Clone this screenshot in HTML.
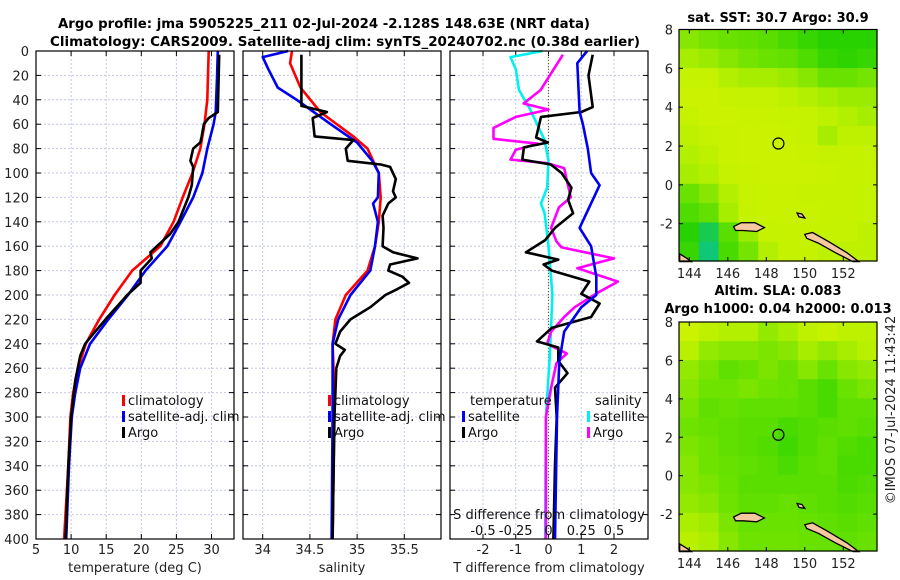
<!DOCTYPE html>
<html><head><meta charset="utf-8">
<style>
html,body{margin:0;padding:0;background:#fff;}
svg{display:block;font-family:"DejaVu Sans","Liberation Sans",sans-serif;}
</style></head>
<body>
<svg id="fig" width="900" height="580" viewBox="0 0 900 580" xmlns="http://www.w3.org/2000/svg">
<text x="324" y="28" font-size="13.5" font-weight="bold" text-anchor="middle" textLength="532" lengthAdjust="spacingAndGlyphs">Argo profile: jma 5905225_211 02-Jul-2024 -2.128S 148.63E (NRT data)</text>
<text x="345" y="46" font-size="13.5" font-weight="bold" text-anchor="middle" textLength="590" lengthAdjust="spacingAndGlyphs">Climatology: CARS2009. Satellite-adj clim: synTS_20240702.nc (0.38d earlier)</text>
<text x="778" y="22" font-size="13" font-weight="bold" text-anchor="middle">sat. SST: 30.7 Argo: 30.9</text>
<text x="778" y="295" font-size="13" font-weight="bold" text-anchor="middle">Altim. SLA: 0.083</text>
<text x="778" y="313" font-size="13" font-weight="bold" text-anchor="middle">Argo h1000: 0.04 h2000: 0.013</text>
<text transform="translate(895,410) rotate(-90)" font-size="13" text-anchor="middle" fill="#222">©IMOS 07-Jul-2024 11:43:42</text>
</svg>
<script>
// ---------- data ----------
const depthTicks=[0,20,40,60,80,100,120,140,160,180,200,220,240,260,280,300,320,340,360,380,400];
const tTicks=[5,10,15,20,25,30];
const sTicks=[34,34.5,35,35.5];
const dTTicks=[-2,-1,0,1,2];
const dSTicks=[-0.5,-0.25,0,0.25,0.5];
const dSTickLabels=["-0.5","-0.25","0","0.25","0.5"];

const tClimDepth=[0,20,40,60,80,100,120,140,160,180,200,220,240,260,280,300,340,400];
const tClimVal=[29.6,29.5,29.4,29.0,28.4,27.3,25.9,24.6,22.7,18.7,16.2,14.0,12.1,11.0,10.3,9.9,9.6,9.0];
const tSatDepth=[0,20,50,60,80,100,120,140,160,180,200,220,240,260,280,300,340,400];
const tSatVal=[30.9,30.8,30.6,30.3,29.4,28.7,27.4,25.6,23.7,20.6,18.1,15.3,12.7,11.3,10.6,10.1,9.7,9.3];
const tArgoDepth=[3,50,55,60,70,75,80,90,95,110,120,140,150,165,170,180,190,200,220,235,240,250,270,300,340,400];
const tArgoVal=[31.1,30.9,29.6,28.9,28.6,28.4,27.4,27.0,27.4,27.2,26.7,25.3,24.1,21.3,21.5,19.9,19.9,18.0,14.9,12.7,12.0,11.3,10.6,10.0,9.6,9.2];

const sClimDepth=[0,10,30,50,70,80,100,120,140,160,180,200,220,240,260,300,400];
const sClimVal=[34.31,34.29,34.40,34.61,34.96,35.11,35.23,35.25,35.23,35.19,35.11,34.88,34.77,34.74,34.75,34.76,34.74];
const sSatDepth=[0,5,15,30,40,60,75,90,100,120,125,140,160,180,200,220,240,300,400];
const sSatVal=[34.27,34.0,34.06,34.16,34.36,34.72,35.0,35.16,35.23,35.22,35.17,35.22,35.19,35.14,34.93,34.80,34.74,34.74,34.73];
const sArgoDepth=[3,45,50,55,70,73,80,90,93,95,105,115,120,125,135,145,160,165,170,175,180,185,190,195,200,210,220,230,240,245,250,260,280,300,400];
const sArgoVal=[34.41,34.41,34.68,34.53,34.55,34.96,34.88,34.90,35.25,35.35,35.41,35.38,35.41,35.33,35.27,35.28,35.27,35.38,35.64,35.35,35.33,35.48,35.55,35.43,35.30,35.14,34.93,34.82,34.77,34.87,34.82,34.78,34.77,34.76,34.74];

const dTSatDepth=[0,10,50,60,80,100,110,145,160,185,200,210,230,255,300,400];
const dTSatVal=[1.18,0.88,0.95,1.05,1.2,1.3,1.56,0.95,1.3,1.46,1.46,1.0,0.48,0.33,0.26,0.2];
const dTArgoDepth=[3,20,46,50,54,71,75,79,89,93,100,112,122,133,145,155,165,171,175,180,189,199,207,218,227,238,243,254,264,276,300,340,400];
const dTArgoVal=[1.35,1.22,1.35,1.0,-0.23,-0.38,-0.02,-0.75,-0.8,0.07,0.4,0.7,0.6,0.75,0.2,-0.1,-0.69,0.3,-0.15,0.1,1.25,1.0,1.56,1.3,0.1,-0.35,0.3,0.3,0.58,0.2,0.25,0.2,0.15];
const dSSatDepth=[0,5,15,32,48,73,90,112,125,133,160,200,250,300,400];
const dSSatVal=[-0.046,-0.29,-0.25,-0.225,-0.14,-0.03,0,-0.01,-0.057,-0.03,0,0.03,0.01,-0.02,-0.025];
const dSArgoDepth=[3,32,43,48,54,63,72,76,81,89,92,96,106,120,128,145,156,161,170,178,189,199,210,218,230,240,248,256,276,300,400];
const dSArgoVal=[0.11,-0.06,-0.19,0,-0.25,-0.42,-0.42,-0.08,-0.25,-0.29,-0.01,0.12,0.14,0.17,0.08,0.02,0.06,0.1,0.5,0.22,0.53,0.36,0.2,0.12,0.02,-0.01,0.14,0.06,0.02,-0.02,-0.02];

const lonTicks=[144,146,148,150,152];
const latTicks=[8,6,4,2,0,-2];
const sstGrid=[
[.75,.72,.70,.68,.65,.60,.55,.50,.50,.50],
[.80,.78,.75,.72,.70,.68,.62,.55,.52,.55],
[.85,.85,.82,.80,.80,.78,.75,.70,.70,.72],
[.88,.88,.86,.85,.85,.84,.82,.80,.78,.78],
[.86,.88,.88,.87,.87,.86,.85,.84,.82,.80],
[.84,.85,.87,.88,.88,.87,.85,.80,.84,.84],
[.82,.84,.87,.88,.88,.88,.87,.85,.86,.85],
[.80,.82,.85,.87,.88,.88,.88,.87,.86,.86],
[.70,.75,.82,.86,.87,.87,.86,.86,.86,.85],
[.62,.68,.80,.85,.87,.87,.87,.86,.86,.85],
[.50,.40,.65,.78,.85,.86,.86,.85,.85,.84],
[.55,.35,.60,.72,.82,.85,.85,.84,.84,.84]];
const slaGrid=[
[.88,.84,.82,.82,.77,.80,.84,.86,.84,.84],
[.83,.77,.75,.75,.73,.75,.80,.77,.80,.83],
[.77,.73,.67,.70,.73,.70,.75,.70,.75,.77],
[.75,.71,.71,.73,.71,.70,.65,.60,.70,.73],
[.73,.67,.69,.67,.67,.67,.65,.60,.67,.67],
[.71,.69,.67,.65,.65,.60,.63,.65,.67,.65],
[.73,.71,.67,.65,.63,.57,.63,.67,.63,.60],
[.75,.71,.69,.67,.65,.61,.65,.67,.60,.60],
[.75,.73,.70,.65,.65,.65,.65,.65,.61,.63],
[.77,.75,.71,.67,.67,.69,.67,.65,.63,.65],
[.81,.79,.73,.69,.70,.70,.69,.67,.65,.67],
[.83,.81,.75,.71,.71,.71,.70,.69,.67,.69]];
const argoLon=148.63, argoLat=2.13;
const islandManus=[[146.3,-2.15],[146.7,-1.95],[147.4,-1.95],[147.9,-2.2],[147.5,-2.4],[146.8,-2.35],[146.4,-2.35]];
const islandNewIreland=[[150.0,-2.55],[150.4,-2.45],[151.2,-2.9],[152.2,-3.5],[152.8,-3.95],[152.5,-3.95],[151.6,-3.5],[150.7,-3.0],[150.1,-2.75]];
const islandSmall=[[149.6,-1.45],[149.85,-1.5],[150.0,-1.7],[149.7,-1.65]];
const islandPNG=[[143.5,-3.55],[143.9,-3.8],[144.1,-3.95],[143.5,-3.95]];

// ---------- helpers ----------
const NS="http://www.w3.org/2000/svg";
const svg=document.getElementById('fig');
function mk(tag,attrs,parent){const e=document.createElementNS(NS,tag);for(const k in attrs)e.setAttribute(k,attrs[k]);(parent||svg).appendChild(e);return e;}
const Y0=51,Y1=539;
function yD(d){return Y0+(d/400)*(Y1-Y0);}
function linScale(d0,d1,r0,r1){return v=>r0+(v-d0)/(d1-d0)*(r1-r0);}

function panel(name,x0,x1,xs,xt,xtl,xlabel,showDepth){
  const g=mk('g',{});
  
  
  xt.forEach(v=>{const x=xs(v);if(x>x0+1&&x<x1-1)mk('line',{x1:x,x2:x,y1:Y0,y2:Y1,stroke:'#c4c8e6','stroke-dasharray':'2,2','stroke-width':1},g);});
  depthTicks.forEach(d=>{const y=yD(d);if(d>0&&d<400)mk('line',{x1:x0,x2:x1,y1:y,y2:y,stroke:'#c4c8e6','stroke-dasharray':'2,2','stroke-width':1},g);
    mk('line',{x1:x0,x2:x0+5,y1:y,y2:y,stroke:'#000'},g);mk('line',{x1:x1-5,x2:x1,y1:y,y2:y,stroke:'#000'},g);
    if(showDepth){const t=mk('text',{x:x0-7,y:y+5,'font-size':13,'text-anchor':'end',fill:'#222'},g);t.textContent=d;}});
  xt.forEach((v,i)=>{const x=xs(v);mk('line',{x1:x,x2:x,y1:Y1,y2:Y1-5,stroke:'#000'},g);mk('line',{x1:x,x2:x,y1:Y0,y2:Y0+5,stroke:'#000'},g);
    if(xtl){const t=mk('text',{x:x,y:554,'font-size':13,'text-anchor':'middle',fill:'#222'},g);t.textContent=xtl[i];}});
  const lt=mk('text',{x:(x0+x1)/2,y:572,'font-size':13,'text-anchor':'middle',fill:'#222'},g);lt.textContent=xlabel;
  return g;
}
function frame(x0,x1){mk('rect',{x:x0,y:Y0,width:x1-x0,height:Y1-Y0,fill:'none',stroke:'#000','stroke-width':1.2});}
function line(g,name,depths,vals,xs,color){
  const pts=depths.map((d,i)=>xs(vals[i]).toFixed(1)+','+yD(d).toFixed(1)).join(' ');
  const p=mk('polyline',{points:pts,fill:'none',stroke:color,'stroke-width':2.6,'stroke-linejoin':'round'},g);
  
  
}
function legend(g,x,y,color,label,name){
  const le=mk('g',{},g);
  
  
  mk('rect',{x:x,y:y-10,width:3,height:11,fill:color},le);
  const t=mk('text',{x:x+6,y:y,'font-size':13,fill:'#111'},le);t.textContent=label;
}

// ---------- panel 1 temperature ----------
const xT=linScale(5,30,36,211.5);
const g1=panel('temperature-panel',36,234,xT,tTicks,tTicks.map(String),'temperature (deg C)',true);
line(g1,'temperature-climatology-line',tClimDepth,tClimVal,xT,'#f00');
line(g1,'temperature-satellite-line',tSatDepth,tSatVal,xT,'#0000f0');
line(g1,'temperature-argo-line',tArgoDepth,tArgoVal,xT,'#000');
legend(g1,122,405,'#f00','climatology','legend-climatology');
legend(g1,122,421,'#0000f0','satellite-adj. clim','legend-satellite-clim');
legend(g1,122,437,'#000','Argo','legend-argo');
frame(36,234);

// ---------- panel 2 salinity ----------
const xS=linScale(34,35.5,262.7,404.3);
const g2=panel('salinity-panel',243,441,xS,sTicks,sTicks.map(String),'salinity',false);
line(g2,'salinity-climatology-line',sClimDepth,sClimVal,xS,'#f00');
line(g2,'salinity-satellite-line',sSatDepth,sSatVal,xS,'#0000f0');
line(g2,'salinity-argo-line',sArgoDepth,sArgoVal,xS,'#000');
legend(g2,328,405,'#f00','climatology','legend-climatology-2');
legend(g2,328,421,'#0000f0','satellite-adj. clim','legend-satellite-clim-2');
legend(g2,328,437,'#000','Argo','legend-argo-2');
frame(243,441);

// ---------- panel 3 differences ----------
const xDT=linScale(-2,2,483,614);
const xDS=v=>xDT(v*4);
const g3=panel('difference-panel',450,648,xDT,dTTicks,dTTicks.map(String),'T difference from climatology',false);
mk('line',{x1:xDT(0),x2:xDT(0),y1:Y0,y2:Y1,stroke:'#7a5a30','stroke-dasharray':'1,2','stroke-width':1.2},g3);
line(g3,'salinity-satellite-diff-line',dSSatDepth,dSSatVal,xDS,'#00f0f0');
line(g3,'salinity-argo-diff-line',dSArgoDepth,dSArgoVal,xDS,'#f0f');
line(g3,'temperature-argo-diff-line',dTArgoDepth,dTArgoVal,xDT,'#000');
line(g3,'temperature-satellite-diff-line',dTSatDepth,dTSatVal,xDT,'#0000f0');
{const t=mk('text',{x:470,y:405,'font-size':13,fill:'#111'},g3);t.textContent='temperature';}
{const t=mk('text',{x:595,y:405,'font-size':13,fill:'#111'},g3);t.textContent='salinity';}
legend(g3,462,421,'#0000f0','satellite','legend-t-satellite');
legend(g3,462,437,'#000','Argo','legend-t-argo');
legend(g3,587,421,'#00f0f0','satellite','legend-s-satellite');
legend(g3,587,437,'#f0f','Argo','legend-s-argo');
{const t=mk('text',{x:549,y:519,'font-size':13,'text-anchor':'middle',fill:'#111'},g3);t.textContent='S difference from climatology';
 }
dSTicks.forEach((v,i)=>{const t=mk('text',{x:xDS(v),y:535,'font-size':13,'text-anchor':'middle',fill:'#111'},g3);t.textContent=dSTickLabels[i];});
frame(450,648);

// ---------- maps ----------
function cmap(v){
  const stops=[[0,[0,0,192]],[0.25,[0,192,200]],[0.5,[40,210,0]],[0.7,[105,226,0]],[0.85,[196,242,0]],[1,[232,240,0]]];
  for(let i=1;i<stops.length;i++){if(v<=stops[i][0]){const a=stops[i-1],b=stops[i],f=(v-a[0])/(b[0]-a[0]);
    return 'rgb('+a[1].map((c,k)=>Math.round(c+(b[1][k]-c)*f)).join(',')+')';}}
  return 'rgb(232,240,0)';
}
function map(name,top,bottom,grid){
  const x0=679,x1=877;
  const lonX=linScale(144,152,689.3,843.3);
  const latY=linScale(8,-3.92,top,bottom);
  const g=mk('g',{});
  
  
  const rows=grid.length,cols=grid[0].length,cw=(x1-x0)/cols,ch=(bottom-top)/rows;
  grid.forEach((row,r)=>row.forEach((v,c)=>{
    const cell=mk('rect',{x:(x0+c*cw).toFixed(2),y:(top+r*ch).toFixed(2),width:(cw+0.6).toFixed(2),height:(ch+0.6).toFixed(2),fill:cmap(v)},g);
    
    
  }));
  [islandManus,islandNewIreland,islandSmall,islandPNG].forEach(isl=>{
    const p=mk('polygon',{points:isl.map(q=>lonX(q[0]).toFixed(1)+','+latY(q[1]).toFixed(1)).join(' '),fill:'#f5c8a0',stroke:'#000','stroke-width':1.3},g);
    
    
  });
  const c=mk('circle',{cx:lonX(argoLon),cy:latY(argoLat),r:5.5,fill:'none',stroke:'#000','stroke-width':1.2},g);
  
  
  mk('rect',{x:x0,y:top,width:x1-x0,height:bottom-top,fill:'none',stroke:'#000','stroke-width':1.2},g);
  latTicks.forEach(v=>{const y=latY(v);mk('line',{x1:x0,x2:x0+4,y1:y,y2:y,stroke:'#000'},g);mk('line',{x1:x1-4,x2:x1,y1:y,y2:y,stroke:'#000'},g);
    const t=mk('text',{x:x0-6,y:y+5,'font-size':13,'text-anchor':'end',fill:'#222'},g);t.textContent=v;});
  lonTicks.forEach(v=>{const x=lonX(v);mk('line',{x1:x,x2:x,y1:bottom,y2:bottom-4,stroke:'#000'},g);mk('line',{x1:x,x2:x,y1:top,y2:top+4,stroke:'#000'},g);
    const t=mk('text',{x:x,y:bottom+17,'font-size':13,'text-anchor':'middle',fill:'#222'},g);t.textContent=v;});
}
map('sst-map',29.5,261,sstGrid);
map('sla-map',322,551,slaGrid);
</script>
</body></html>
